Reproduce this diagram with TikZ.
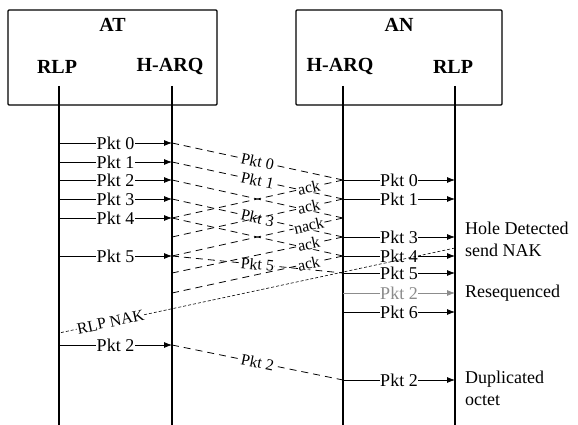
\documentclass[tikz,border=0pt]{standalone}
\usepackage{fontspec}
\setmainfont{Liberation Serif}
\usetikzlibrary{positioning,arrows.meta}

\begin{document}
\begin{tikzpicture}[
      x = 1pt, y = -1pt,
      entity/.style = {rectangle, draw, line width=1.2pt, rounded corners=1pt,
                       minimum height=95pt, inner sep=0pt},
      head/.style   = {inner sep=0pt, font=\fontsize{20}{22}\selectfont\bfseries},
      life/.style   = {line width=1.2pt},
      msg/.style    = {-{Latex[length=8pt,width=6pt]}, line width=0.8pt},
      air/.style    = {dash pattern=on 7pt off 5pt, line width=0.8pt},
      nak/.style    = {densely dashed, line width=0.6pt},
      lbl/.style    = {fill=white, inner sep=0.6pt, font=\fontsize{18}{20}\selectfont},
      tilt/.style   = {fill=white, inner sep=0.3pt, sloped,
                       font=\fontsize{16}{18}\selectfont},
      note/.style   = {anchor=west, align=left, inner sep=0pt,
                       font=\fontsize{18}{22}\selectfont}
    ]
    \useasboundingbox (0,0) rectangle (578,425);

    % terminals
    \node[entity, minimum width=209pt] (at) at (112.5,57.5) {};
    \node[entity, minimum width=206pt] (an) at (399,57.5) {};
    \node[head, below=8.5pt of at.north] (attitle) {AT};
    \node[head, below=8.5pt of an.north] (antitle) {AN};
    \node[head] (atrlp)  at (57,67)  {RLP};
    \node[head] (atharq) at (170,67) {H-ARQ};
    \node[head] (anharq) at (340,67) {H-ARQ};
    \node[head] (anrlp)  at (453,67) {RLP};

    % life lines
    \foreach \name/\x in {atR/59, atH/172, anH/343, anR/455} {
      \coordinate (\name-top) at (\x,86);
      \coordinate (\name-bot) at (\x,425);
      \draw[life] (\name-top) -- (\name-bot);
    }

    % AT side: RLP -> H-ARQ
    \foreach \k/\y in {0/143, 1/162, 2/180, 3/199, 4/218, 5/256} {
      \coordinate (sR\k) at (59,\y);
      \coordinate (sH\k) at (172,\y);
      \draw[msg] (sR\k) -- node[lbl] {Pkt \k} (sH\k);
    }
    \coordinate (sR7) at (59,345);
    \coordinate (sH7) at (172,345);
    \draw[msg] (sR7) -- node[lbl] {Pkt 2} (sH7);

    % AN side: H-ARQ -> RLP
    \foreach \k/\y in {0/180, 1/199, 3/237, 4/256, 5/273, 6/312} {
      \coordinate (rH\k) at (343,\y);
      \coordinate (rR\k) at (455,\y);
      \draw[msg] (rH\k) -- node[lbl] {Pkt \k} (rR\k);
    }
    \coordinate (rH2) at (343,293);
    \coordinate (rR2) at (455,293);
    \draw[msg, black!45] (rH2) -- node[lbl, text=black!45] {Pkt 2} (rR2);
    \coordinate (rH7) at (343,380);
    \coordinate (rR7) at (455,380);
    \draw[msg] (rH7) -- node[lbl] {Pkt 2} (rR7);
    \coordinate (lost) at (343,218);

    % acks arriving at AT H-ARQ
    \foreach \k/\y in {1/218, 2/237, 3/256, 4/273, 5/293}
      \coordinate (ak\k) at (172,\y);

    % over the air
    \draw[air] (sH0) -- node[tilt] {Pkt 0} (rH0);
    \draw[air] (sH1) -- node[tilt] {Pkt 1} (rH1);
    \draw[air] (sH2) -- (lost);
    \draw[air] (sH3) -- node[tilt] {Pkt 3} (rH3);
    \draw[air] (sH4) -- (rH4);
    \draw[air] (sH5) -- node[tilt] {Pkt 5} (rH5);
    \draw[air] (sH7) -- node[tilt] {Pkt 2} (rH7);

    \draw[air] (rH0) -- node[tilt, pos=0.2] {ack}  (ak1);
    \draw[air] (rH1) -- node[tilt, pos=0.2] {ack}  (ak2);
    \draw[air] (lost) -- node[tilt, pos=0.2] {nack} (ak3);
    \draw[air] (rH3) -- node[tilt, pos=0.2] {ack}  (ak4);
    \draw[air] (rH4) -- node[tilt, pos=0.2] {ack}  (ak5);

    % RLP NAK
    \coordinate (nakR) at (455,248);
    \coordinate (nakT) at (59,333);
    \draw[nak] (nakR) -- node[tilt, pos=0.87] {RLP NAK} (nakT);

    % notes
    \node[note] (hole)  at (465,239) {Hole Detected\\send NAK};
    \node[note] (reseq) at (465,293) {Resequenced};
    \node[note] (dup)   at (465,388) {Duplicated\\octet};
  \end{tikzpicture}
\end{document}
